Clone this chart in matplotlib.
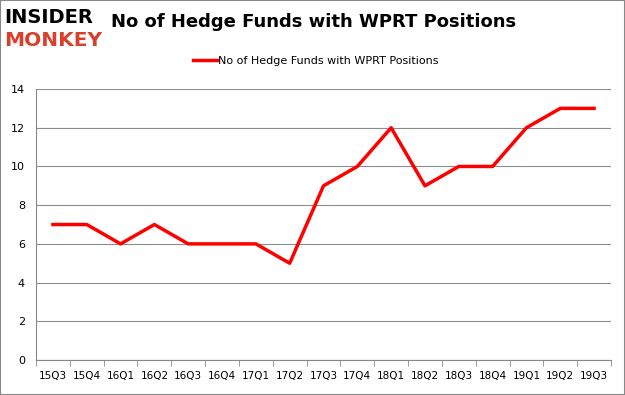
import matplotlib.pyplot as plt
import numpy as np

quarters = ["15Q3", "15Q4", "16Q1", "16Q2", "16Q3", "16Q4", "17Q1", "17Q2", "17Q3",
            "17Q4", "18Q1", "18Q2", "18Q3", "18Q4", "19Q1", "19Q2", "19Q3"]
funds = [7, 7, 6, 7, 6, 6, 6, 5, 9, 10, 12, 9, 10, 10, 12, 13, 13]
yticks = [0, 2, 4, 6, 8, 10, 12, 14]

fig = plt.figure(figsize=(6.25, 3.95), dpi=100)
ax = fig.add_axes([0.0576, 0.0886, 0.92, 0.686])

x = np.arange(len(quarters))
ax.plot(x, funds, color="#ff0000", linewidth=2.5, label="No of Hedge Funds with WPRT Positions")

ax.set_xlim(-0.5, len(quarters) - 0.5)
ax.set_ylim(0, 14)
ax.set_yticks(yticks)
ax.set_xticks(x)
ax.set_xticklabels(quarters)
ax.set_xticks(np.arange(-0.5, len(quarters)), minor=True)
ax.tick_params(axis="x", which="major", length=0, labelsize=7.5, pad=8)
ax.tick_params(axis="x", which="minor", length=4, color="#888888")
ax.tick_params(axis="y", length=0, labelsize=8, pad=8)
ax.grid(axis="y", color="#8c8c8c", linewidth=0.8)
ax.set_axisbelow(True)
for s in ["top", "right"]:
    ax.spines[s].set_visible(False)
ax.spines["left"].set_color("#888888")
ax.spines["bottom"].set_color("#888888")

fig.text(0.502, 0.945, "No of Hedge Funds with WPRT Positions", ha="center", va="center",
         fontsize=13, fontweight="bold")
fig.legend(loc="center", bbox_to_anchor=(0.505, 0.845), frameon=False, fontsize=8,
           handlelength=2.2, handletextpad=0.1)

# logo
fig.text(0.006, 0.955, "INSIDER", ha="left", va="center", fontsize=14, fontweight="bold",
         color="black")
fig.text(0.006, 0.897, "MONKEY", ha="left", va="center", fontsize=14.5, fontweight="bold",
         color="#d9402b")

fig.patches.append(plt.Rectangle((0, 0), 1, 1, transform=fig.transFigure, fill=False,
                                 edgecolor="#888888", linewidth=1.5))

fig.savefig("out.png", dpi=100)
